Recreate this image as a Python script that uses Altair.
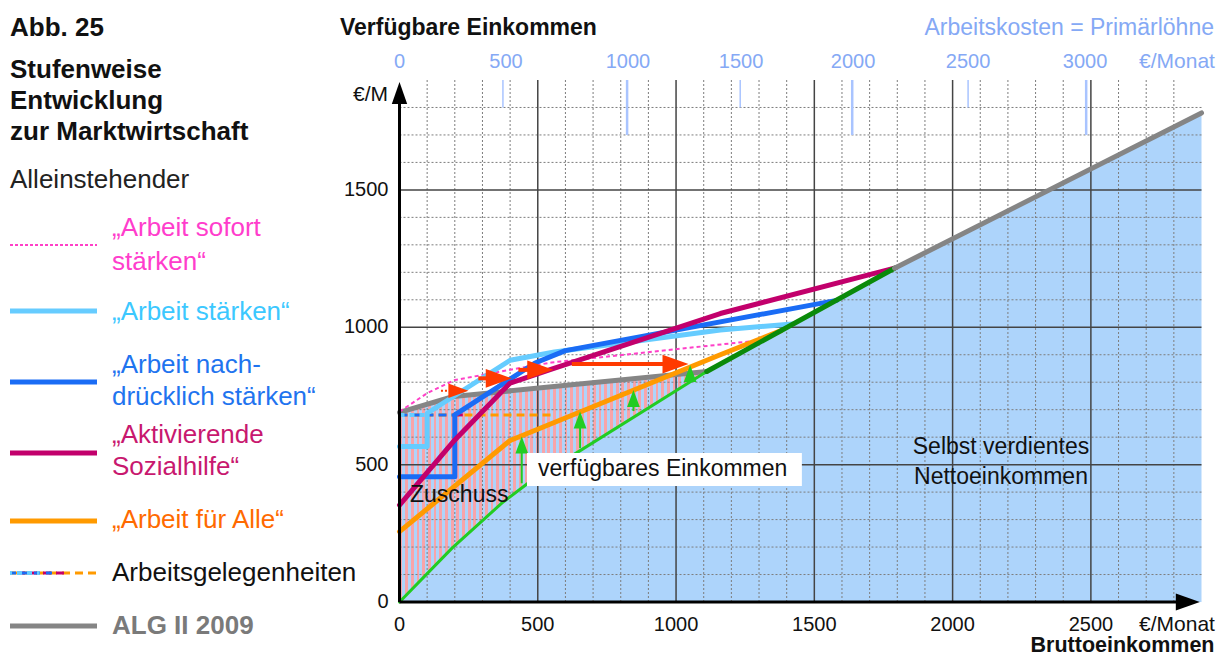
import altair as alt
import pandas as pd

FONT = "Liberation Sans"

# ---------------- values ----------------
gross_ticks = [0, 500, 1000, 1500, 2000, 2500]
net_ticks = [0, 500, 1000, 1500]
labor_labels = ["0", "500", "1000", "1500", "2000", "2500", "3000"]
labor_label_pos = [0, 385, 826, 1235, 1640, 2056, 2479]      # gross € under each labour-cost label
labor_tick_short = [374, 1232, 2056]
labor_tick_long = [823, 1637, 2483]

grid_major_g = [500, 1000, 1500, 2000, 2500]
grid_major_n = [500, 1000, 1500]
grid_minor_g = [g for g in range(100, 2900, 100) if g % 500]
grid_minor_n = [n for n in range(100, 1900, 100) if n % 500]

# net income (selbst verdient) as function of gross income
net_g = [0, 190, 370, 480, 620, 1111, 1790, 2900]
net_n = [0, 196, 360, 444, 530, 839, 1215, 1780]

alg_g = [0, 195, 1111]                      # ALG II 2009
alg_n = [690, 748, 839]
sofort_g = [0, 100, 200, 400, 550, 1280]     # "Arbeit sofort stärken"
sofort_n = [693, 760, 808, 845, 872, 950]
staerken_g = [0, 100, 100, 400, 560, 1160, 1420]   # "Arbeit stärken"
staerken_n = [566, 566, 687, 880, 910, 990, 1012]
nachdr_g = [0, 200, 200, 490, 600, 1581]     # "Arbeit nachdrücklich stärken"
nachdr_n = [456, 456, 681, 870, 915, 1098]
sozial_g = [0, 200, 400, 550, 1160, 1790]    # "Aktivierende Sozialhilfe"
sozial_n = [353, 590, 797, 848, 1050, 1215]
alle_g = [0, 400, 1160, 1380]                # "Arbeit für Alle"
alle_n = [256, 588, 900, 988]

ag_level = 681                               # Arbeitsgelegenheiten
ag_orange = [0, 560]
ag_magenta = [200, 290]
ag_blue = [0, 200]
ag_lightblue = [0, 100]

red_from = [150, 285, 430, 623]
red_tip = [249, 406, 556, 1045]
red_level = [769, 814, 845, 866]

green_at = [442, 653, 846, 1051]
green_base = [432, 560, 695, 812]
green_tip = [602, 693, 772, 863]

# ---------------- styling ----------------
W, H = 802, 522
XS = alt.Scale(domain=[0, 2900], nice=False, zero=False)
YS = alt.Scale(domain=[0, 1900], nice=False, zero=False)

C_PINK = "#ff40c8"
C_LBLUE = "#66ccff"
C_BLUE = "#1a6cf5"
C_MAG = "#c2006c"
C_ORANGE = "#ff9a00"
C_GRAY = "#858585"
C_LGREEN = "#22cc22"
C_DGREEN = "#0a8a0a"
C_RED = "#ff3a00"
C_FILL = "#add4fb"
C_TOP = "#85a9f5"


def X(f="g"):
    return alt.X(f"{f}:Q", scale=XS, axis=None)


def Y(f="n"):
    return alt.Y(f"{f}:Q", scale=YS, axis=None)


def line(g, n, color, width, dash=None, cap="round"):
    kw = dict(color=color, strokeWidth=width, strokeCap=cap, strokeJoin="round")
    if dash:
        kw["strokeDash"] = dash
    d = pd.DataFrame({"g": g, "n": n, "i": list(range(len(g)))})
    return alt.Chart(d).mark_line(**kw).encode(x=X(), y=Y(), order="i:Q")


def hseg(gs, level, color, width, dash, offset=0):
    d = pd.DataFrame({"g": [gs[0]], "g2": [gs[1]], "n": [level]})
    return alt.Chart(d).mark_rule(color=color, strokeWidth=width, strokeDash=dash,
                                  strokeDashOffset=offset).encode(
        x=X(), x2=alt.X2("g2:Q"), y=Y())


ONE = pd.DataFrame({"a": [0]})


def ptext(s, x, y, size, color="#111111", bold=False, align="left"):
    kw = dict(text=s, fontSize=size, color=color, align=align, baseline="middle", font=FONT)
    if bold:
        kw["fontWeight"] = "bold"
    return alt.Chart(ONE).mark_text(**kw).encode(x=alt.value(x), y=alt.value(y))


def prule(x1, x2, y, color, width, dash=None, offset=0):
    kw = dict(color=color, strokeWidth=width)
    if dash:
        kw["strokeDash"] = dash
        kw["strokeDashOffset"] = offset
    return alt.Chart(ONE).mark_rule(**kw).encode(
        x=alt.value(x1), x2=alt.value(x2), y=alt.value(y))


layers = []

# --- hatched (striped) area under ALG II line ---
stops = []
NS = 54
for k in range(NS):
    a, b, c = k / NS, (k + 0.5) / NS, (k + 1) / NS
    stops += [alt.GradientStop(offset=a, color="#f8a4a9"), alt.GradientStop(offset=b, color="#f8a4a9"),
              alt.GradientStop(offset=b, color="#aed4fb"), alt.GradientStop(offset=c, color="#aed4fb")]
grad = alt.Gradient(gradient="linear", stops=stops, x1=0, x2=1, y1=0, y2=0)
layers.append(alt.Chart(pd.DataFrame({"g": alg_g, "n": alg_n})).mark_area(color=grad, opacity=1)
              .encode(x=X(), y=Y(), y2=alt.datum(0)))
# --- blue area: selbst verdientes Nettoeinkommen ---
layers.append(alt.Chart(pd.DataFrame({"g": net_g, "n": net_n})).mark_area(color=C_FILL, opacity=1)
              .encode(x=X(), y=Y(), y2=alt.datum(0)))

# --- grid ---
layers.append(alt.Chart(pd.DataFrame({"g": grid_minor_g})).mark_rule(
    color="#7d7d7d", strokeWidth=1, strokeDash=[2, 2]).encode(x=X()))
layers.append(alt.Chart(pd.DataFrame({"n": grid_minor_n})).mark_rule(
    color="#7d7d7d", strokeWidth=1, strokeDash=[2, 2]).encode(y=Y()))
layers.append(alt.Chart(pd.DataFrame({"g": grid_major_g})).mark_rule(
    color="#444444", strokeWidth=1.5).encode(x=X()))
layers.append(alt.Chart(pd.DataFrame({"n": grid_major_n})).mark_rule(
    color="#444444", strokeWidth=1.5).encode(y=Y()))

# --- top labour-cost ticks ---
layers.append(alt.Chart(pd.DataFrame({"g": labor_tick_short, "t": 1900, "b": 1800})).mark_rule(
    color="#a9c4ff", strokeWidth=1.5).encode(x=X(), y=Y("t"), y2=alt.Y2("b:Q")))
layers.append(alt.Chart(pd.DataFrame({"g": labor_tick_long, "t": 1900, "b": 1700})).mark_rule(
    color="#a9c4ff", strokeWidth=2.5).encode(x=X(), y=Y("t"), y2=alt.Y2("b:Q")))

# --- lines ---
layers.append(line(alg_g, alg_n, C_GRAY, 5))
layers.append(hseg(ag_orange, ag_level, C_ORANGE, 3, [8, 5]))
layers.append(hseg(ag_magenta, ag_level, C_MAG, 3, [8, 30], 0))
layers.append(hseg(ag_blue, ag_level, C_BLUE, 3, [8, 5]))
layers.append(hseg(ag_lightblue, ag_level, C_LBLUE, 4, [5, 5]))
layers.append(line(sofort_g, sofort_n, C_PINK, 2, [4, 3], cap="butt"))
layers.append(line(alle_g, alle_n, C_ORANGE, 5))
layers.append(line(staerken_g, staerken_n, C_LBLUE, 5))
layers.append(line(nachdr_g, nachdr_n, C_BLUE, 5))
layers.append(line(sozial_g, sozial_n, C_MAG, 5))
layers.append(line(net_g[:6], net_n[:6], C_LGREEN, 3))
layers.append(line(net_g[5:7], net_n[5:7], C_DGREEN, 5))
layers.append(line(net_g[6:], net_n[6:], C_GRAY, 5))

# --- red arrows ---
RED_HEAD = "M-1,-0.72L1,0L-1,0.72Z"
layers.append(alt.Chart(pd.DataFrame({"g": red_from[:1], "t": red_tip[:1], "n": red_level[:1]}))
              .mark_rule(color=C_RED, strokeWidth=2, strokeDash=[2, 2], x2Offset=-14)
              .encode(x=X(), x2=alt.X2("t:Q"), y=Y()))
layers.append(alt.Chart(pd.DataFrame({"g": red_from[1:], "t": red_tip[1:], "n": red_level[1:]}))
              .mark_rule(color=C_RED, strokeWidth=4, x2Offset=-18)
              .encode(x=X(), x2=alt.X2("t:Q"), y=Y()))
layers.append(alt.Chart(pd.DataFrame({"g": red_tip[:1], "n": red_level[:1]}))
              .mark_point(shape=RED_HEAD, size=400, filled=True, opacity=1, color=C_RED,
                          strokeWidth=0, xOffset=-10)
              .encode(x=X(), y=Y()))
layers.append(alt.Chart(pd.DataFrame({"g": red_tip[1:], "n": red_level[1:]}))
              .mark_point(shape=RED_HEAD, size=676, filled=True, opacity=1, color=C_RED,
                          strokeWidth=0, xOffset=-13)
              .encode(x=X(), y=Y()))

# --- green arrows ---
GREEN_HEAD = "M-0.75,1L0,-1L0.75,1Z"
layers.append(alt.Chart(pd.DataFrame({"g": green_at, "n": green_base, "t": green_tip}))
              .mark_rule(color=C_LGREEN, strokeWidth=2, y2Offset=12)
              .encode(x=X(), y=Y(), y2=alt.Y2("t:Q")))
layers.append(alt.Chart(pd.DataFrame({"g": green_at, "n": green_tip}))
              .mark_point(shape=GREEN_HEAD, size=289, filled=True, opacity=1, color=C_LGREEN,
                          strokeWidth=0, yOffset=8.5)
              .encode(x=X(), y=Y()))

# --- axes with arrowheads ---
layers.append(alt.Chart(pd.DataFrame({"g": [0], "n": [0], "t": [1840]}))
              .mark_rule(color="black", strokeWidth=3).encode(x=X(), y=Y(), y2=alt.Y2("t:Q")))
layers.append(alt.Chart(pd.DataFrame({"g": [0], "n": [1893]}))
              .mark_point(shape="M-0.7,1L0,-1L0.7,1Z", size=484, filled=True, opacity=1,
                          color="black", strokeWidth=0, yOffset=11).encode(x=X(), y=Y()))
layers.append(alt.Chart(pd.DataFrame({"g": [0], "t": [2894], "n": [0]}))
              .mark_rule(color="black", strokeWidth=3, x2Offset=-20)
              .encode(x=X(), x2=alt.X2("t:Q"), y=Y()))
layers.append(alt.Chart(pd.DataFrame({"g": [2894], "n": [0]}))
              .mark_point(shape="M-1,-0.7L1,0L-1,0.7Z", size=576, filled=True, opacity=1,
                          color="black", strokeWidth=0, xOffset=-12).encode(x=X(), y=Y()))

# --- in-plot labels ---
layers.append(alt.Chart(pd.DataFrame({"g": [461], "g2": [1455], "n": [422], "n2": [542]}))
              .mark_rect(color="white", opacity=1)
              .encode(x=X(), x2=alt.X2("g2:Q"), y=Y(), y2=alt.Y2("n2:Q")))
layers.append(alt.Chart(pd.DataFrame({"g": [501], "n": [484], "t": ["verfügbares Einkommen"]}))
              .mark_text(font=FONT, fontSize=23, align="left", baseline="middle", color="#111111")
              .encode(x=X(), y=Y(), text="t:N"))
layers.append(alt.Chart(pd.DataFrame({"g": [38], "n": [389], "t": ["Zuschuss"]}))
              .mark_text(font=FONT, fontSize=23, align="left", baseline="middle", color="#111111")
              .encode(x=X(), y=Y(), text="t:N"))
layers.append(alt.Chart(pd.DataFrame({"g": [2175, 2175], "n": [564, 455],
                                      "t": ["Selbst verdientes", "Nettoeinkommen"]}))
              .mark_text(font=FONT, fontSize=23, align="center", baseline="middle", color="#111111")
              .encode(x=X(), y=Y(), text="t:N"))

# --- tick labels ---
layers.append(alt.Chart(pd.DataFrame({"n": net_ticks}))
              .mark_text(font=FONT, fontSize=20, align="right", baseline="middle", color="#111111")
              .encode(x=alt.value(-11), y=Y(), text="n:Q"))
layers.append(alt.Chart(pd.DataFrame({"g": gross_ticks}))
              .mark_text(font=FONT, fontSize=20, align="center", baseline="middle", color="#111111")
              .encode(x=X(), y=alt.value(H + 23), text="g:Q"))
layers.append(alt.Chart(pd.DataFrame({"g": labor_label_pos, "t": labor_labels}))
              .mark_text(font=FONT, fontSize=20, align="center", baseline="middle", color=C_TOP)
              .encode(x=X(), y=alt.value(-18), text="t:N"))

# --- texts around the plot (pixel positions relative to plot origin) ---
layers += [
    ptext("€/Monat", 777.5, -18, 21, C_TOP, align="center"),
    ptext("Verfügbare Einkommen", -59.5, -52, 23, "#111111", bold=True),
    ptext("Arbeitskosten = Primärlöhne", 814.5, -52, 23, C_TOP, align="right"),
    ptext("€/M", -11.5, 15, 21, "#111111", align="right"),
    ptext("€/Monat", 777.5, 545, 21, "#111111", align="center"),
    ptext("Bruttoeinkommen", 815, 566, 21.5, "#111111", bold=True, align="right"),
    # left legend block
    ptext("Abb. 25", -389.5, -52, 26, "#111111", bold=True),
    ptext("Stufenweise", -389.5, -10, 26, "#111111", bold=True),
    ptext("Entwicklung", -389.5, 21, 26, "#111111", bold=True),
    ptext("zur Marktwirtschaft", -389.5, 52, 26, "#111111", bold=True),
    ptext("Alleinstehender", -389.5, 100, 26, "#222222"),
    ptext("\u201eArbeit sofort", -287.5, 148, 26, "#ff3dcc"),
    ptext("stärken\u201c", -287.5, 182, 26, "#ff3dcc"),
    ptext("\u201eArbeit stärken\u201c", -287.5, 232, 26, "#3cc8ff"),
    ptext("\u201eArbeit nach-", -287.5, 285, 26, "#1f74ef"),
    ptext("drücklich stärken\u201c", -287.5, 317, 26, "#1f74ef"),
    ptext("\u201eAktivierende", -287.5, 355, 26, "#c8186f"),
    ptext("Sozialhilfe\u201c", -287.5, 387, 26, "#c8186f"),
    ptext("\u201eArbeit für Alle\u201c", -287.5, 440, 26, "#ff6a00"),
    ptext("Arbeitsgelegenheiten", -287.5, 493, 26, "#111111"),
    ptext("ALG II 2009", -287.5, 546, 26, "#7a7a7a", bold=True),
    prule(-389.5, -302.5, 165, C_PINK, 2, [3, 2]),
    prule(-389.5, -302.5, 231, C_LBLUE, 5),
    prule(-389.5, -302.5, 302, C_BLUE, 5),
    prule(-389.5, -302.5, 373, C_MAG, 5),
    prule(-389.5, -302.5, 441, C_ORANGE, 5),
    prule(-389.5, -302.5, 493, C_ORANGE, 3, [8, 5]),
    prule(-389.5, -333, 493, C_MAG, 3, [8, 5], 6),
    prule(-389.5, -345, 493, C_BLUE, 3, [6, 6], 0),
    prule(-389.5, -360, 493, C_LBLUE, 4, [5, 5], 3),
    prule(-389.5, -302.5, 546, C_GRAY, 5),
]

chart = alt.layer(*layers).properties(
    width=W, height=H,
    padding={"left": 391.5, "top": 72, "right": 14.5, "bottom": 55},
    autosize=alt.AutoSizeParams(type="none"),
).configure_view(stroke=None)

chart.save("out.html", embed_options={"renderer": "svg", "actions": False})
